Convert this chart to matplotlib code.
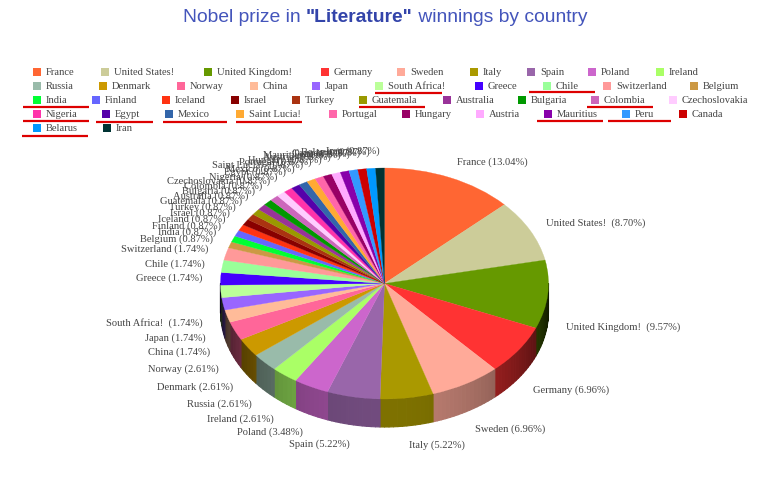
import numpy as np
import matplotlib
matplotlib.use('Agg')
import matplotlib.pyplot as plt
from matplotlib.collections import PolyCollection
from matplotlib.colors import to_rgb

countries = ['France', 'United States!', 'United Kingdom!', 'Germany', 'Sweden', 'Italy', 'Spain', 'Poland', 'Ireland',
             'Russia', 'Denmark', 'Norway', 'China', 'Japan', 'South Africa!', 'Greece', 'Chile', 'Switzerland', 'Belgium',
             'India', 'Finland', 'Iceland', 'Israel', 'Turkey', 'Guatemala', 'Australia', 'Bulgaria', 'Colombia', 'Czechoslovakia',
             'Nigeria', 'Egypt', 'Mexico', 'Saint Lucia!', 'Portugal', 'Hungary', 'Austria', 'Mauritius', 'Peru', 'Canada',
             'Belarus', 'Iran']
wins = [15, 10, 11, 8, 8, 6, 6, 4, 3,
        3, 3, 3, 2, 2, 2, 2, 2, 2, 1,
        1, 1, 1, 1, 1, 1, 1, 1, 1, 1,
        1, 1, 1, 1, 1, 1, 1, 1, 1, 1,
        1, 1]
colors = ['#FF6633', '#CCCC99', '#669900', '#FF3333', '#FFAA99', '#AA9900', '#9966AA', '#CC66CC', '#AAFF66',
          '#99BBAA', '#CC9900', '#FF6699', '#FFBB99', '#9966FF', '#BBFF99', '#4400FF', '#99FF99', '#FF9999', '#CC9944',
          '#00FF33', '#6666FF', '#FF3311', '#880000', '#AA3311', '#999900', '#993399', '#009900', '#CC66BB', '#FFCCFF',
          '#FF33AA', '#5500AA', '#3366AA', '#FFAA33', '#FF66AA', '#990066', '#FFAAFF', '#8800AA', '#3399FF', '#CC0000',
          '#0099FF', '#003333']
underlined = ['South Africa!', 'Chile', 'India', 'Guatemala', 'Colombia', 'Nigeria', 'Egypt', 'Mexico', 'Saint Lucia!',
              'Mauritius', 'Peru', 'Belarus']

# legend layout, swatch left edge for every row (html table in the original so rows dont line up)
legend_rows = [
    (72, [33, 101, 204, 321, 397, 470, 527, 588, 656]),
    (86, [33, 99, 177, 250, 312, 375, 475, 543, 603, 690]),
    (100, [33, 92, 162, 231, 292, 359, 443, 518, 591, 669]),
    (114, [33, 102, 165, 236, 329, 402, 476, 544, 622, 679]),
    (128, [33, 103]),
]
# hand drawn red lines: x start, x end, y
red_lines = {'South Africa!': (375, 442, 93), 'Chile': (529, 595, 92), 'India': (23, 89, 107),
             'Guatemala': (359, 425, 107), 'Colombia': (587, 653, 107), 'Nigeria': (23, 89, 121),
             'Egypt': (96, 153, 122), 'Mexico': (163, 227, 122), 'Saint Lucia!': (236, 302, 122),
             'Mauritius': (537, 603, 121), 'Peru': (608, 671, 121), 'Belarus': (22, 88, 136)}

W, H = 770, 484
cx, cy, rx, ry, depth = 384.5, 283.5, 164, 115.5, 28
SERIF = 'Liberation Serif'
TEXT = '#444444'
TITLE = '#4455BB'

fig = plt.figure(figsize=(W / 100, H / 100), dpi=100)
ax = fig.add_axes([0, 0, 1, 1])
ax.set_xlim(0, W)
ax.set_ylim(H, 0)
ax.axis('off')

# title in three parts because of the bold word
t1 = ax.text(183, 18, 'Nobel prize in ', fontsize=13.85, family='Liberation Sans', color=TITLE, va='center')
t2 = ax.annotate('"Literature"', xy=(1, 0), xycoords=t1, va='bottom', fontsize=13.85, family='Liberation Sans',
                 fontweight='bold', color='#3344AA')
ax.annotate(' winnings by country', xy=(1, 0), xycoords=t2, va='bottom', fontsize=13.85, family='Liberation Sans',
            color=TITLE)

# legend
i = 0
for y, xs in legend_rows:
    for x in xs:
        ax.scatter([x + 3.5], [y], marker='s', s=26, color=colors[i], linewidths=0)
        ax.text(x + 13, y + 0.5, countries[i], fontsize=7.6, family=SERIF, color=TEXT, va='center')
        i += 1
for name in underlined:
    x0, x1, y = red_lines[name]
    ax.plot([x0, x1], [y, y], color='#DD0000', lw=1.6, solid_capstyle='butt')

# angles clockwise from 12 o'clock
wins = np.array(wins, dtype=float)
edges = np.concatenate([[0], np.cumsum(wins)]) / wins.sum() * 2 * np.pi
mids = (edges[:-1] + edges[1:]) / 2

# side wall, only the part facing us
polys, shades = [], []
for k in range(len(wins)):
    a0, a1 = max(edges[k], np.pi / 2), min(edges[k + 1], 3 * np.pi / 2)
    if a1 <= a0:
        continue
    steps = np.linspace(a0, a1, max(2, int((a1 - a0) * 40)))
    base = np.array(to_rgb(colors[k]))
    for p, q in zip(steps[:-1], steps[1:]):
        m = (p + q) / 2
        xa, xb = cx + rx * np.sin(p), cx + rx * np.sin(q)
        ya, yb = cy - ry * np.cos(p), cy - ry * np.cos(q)
        polys.append([(xa, ya), (xb, yb), (xb, yb + depth), (xa, ya + depth)])
        # darker towards left and right ends
        f = 0.12 + 0.62 * -np.cos(m)
        shades.append(base * f)
ax.add_collection(PolyCollection(polys, facecolors=shades, edgecolors=shades, linewidths=0.8))

# labels
for k, name in enumerate(countries):
    a = mids[k]
    x = cx + 182 * np.sin(a)
    y = cy - 132 * np.cos(a)
    if np.cos(a) < 0:
        y += 31
    pct = wins[k] / wins.sum() * 100
    gap = '  ' if name.endswith('!') else ' '
    ax.text(x, y, f'{name}{gap}({pct:.2f}%)', fontsize=7.6, family=SERIF, color=TEXT, va='center',
            ha='left' if np.sin(a) > 0 else 'right')

# top face, pie squashed by a non equal axes
pie_ax = fig.add_axes([(cx - rx) / W, 1 - (cy + ry) / H, 2 * rx / W, 2 * ry / H])
wedges, _ = pie_ax.pie(wins, colors=colors, startangle=90, counterclock=False, radius=1)
for w in wedges:
    w.set_edgecolor(w.get_facecolor())
    w.set_linewidth(0.2)
pie_ax.set_aspect('auto')
pie_ax.set_xlim(-1, 1)
pie_ax.set_ylim(-1, 1)

fig.savefig('out.png', dpi=100)
